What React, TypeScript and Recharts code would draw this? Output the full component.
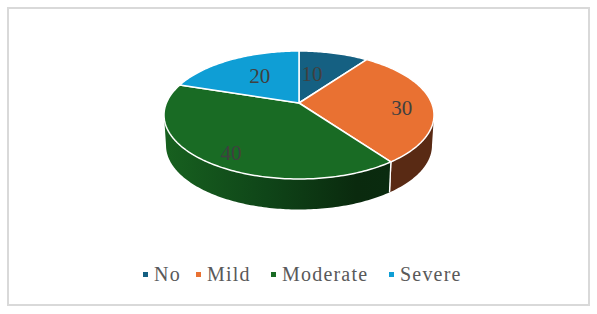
import React from "react";
import { PieChart, Pie, Legend } from "recharts";

const categories = ["No", "Mild", "Moderate", "Severe"];
const seriesValues = [10, 30, 40, 20];
const colours = ["#156082", "#E97132", "#196B24", "#0F9ED5"];

const chartData = categories.map((name, i) => ({ name, value: seriesValues[i], fill: colours[i] }));

// Perspective view of the flat pie disc
const TILT = 0.1875;
const SCALE_X = 132.6;
const SCALE_Y = 61.75;
const DEPTH = 30.5;
const FLOOR_SHRINK = 0.985;
const SILHOUETTE = (Math.acos(-TILT) * 180) / Math.PI;

const project = (cx: number, cy: number, deg: number, f = 1) => {
  const r = (deg * Math.PI) / 180;
  const w = 1 + TILT * f * Math.cos(r);
  return { x: cx + (SCALE_X * f * Math.sin(r)) / w, y: cy - (SCALE_Y * f * Math.cos(r)) / w };
};
const floor = (cx: number, p: { x: number; y: number }) => ({
  x: cx + (p.x - cx) * FLOOR_SHRINK,
  y: p.y + DEPTH,
});
const pts = (a: { x: number; y: number }[]) =>
  a.map((p, i) => `${i ? "L" : "M"}${p.x.toFixed(2)},${p.y.toFixed(2)}`).join(" ");
const arc = (cx: number, cy: number, a: number, b: number) => {
  const n = Math.max(2, Math.ceil(Math.abs(b - a)));
  return Array.from({ length: n + 1 }, (_, i) => project(cx, cy, a + ((b - a) * i) / n));
};

const PieSlice3D = (props: any) => {
  const { cx, cy, startAngle, endAngle, fill } = props;
  const t0 = 90 - startAngle;
  const t1 = 90 - endAngle;
  const a = Math.max(t0, SILHOUETTE);
  const b = Math.min(t1, 360 - SILHOUETTE);
  const hasWall = b > a;
  const isGreen = fill === colours[2];
  const gid = "wall-grad-green";
  let wall = null;
  if (hasWall) {
    const up = arc(cx, cy, a, b);
    const low = up.map((p) => floor(cx, p)).reverse();
    const edges = [t0, t1].filter((t) => t > SILHOUETTE && t < 360 - SILHOUETTE);
    wall = (
      <g>
        {isGreen && (
          <defs>
            <linearGradient id={gid} gradientUnits="userSpaceOnUse" x1={166} x2={390} y1={0} y2={0}>
              <stop offset="0" stopColor="#17601f" />
              <stop offset="0.45" stopColor="#0f4518" />
              <stop offset="0.85" stopColor="#0a2a0e" />
              <stop offset="1" stopColor="#0a2b0f" />
            </linearGradient>
          </defs>
        )}
        <path d={pts([...up, ...low]) + " Z"} fill={isGreen ? `url(#${gid})` : "#592a14"} />
        {edges.map((t) => {
          const p = project(cx, cy, t);
          const q = floor(cx, p);
          return <line key={t} x1={p.x} y1={p.y} x2={q.x} y2={q.y} stroke="#fff" strokeWidth={1.3} />;
        })}
      </g>
    );
  }
  const top = pts([{ x: cx, y: cy }, ...arc(cx, cy, t0, t1)]) + " Z";
  return (
    <g>
      {wall}
      <path d={top} fill={fill} stroke="#fff" strokeWidth={1.5} strokeLinejoin="round" />
    </g>
  );
};

const LABEL_NUDGE = [
  [-12.5, 7.5],
  [10, 5],
  [-7, 11],
  [10, 5],
];

const SliceLabel = (props: any) => {
  const { cx, cy, midAngle, index, value } = props;
  const p = project(cx, cy, 90 - midAngle, 0.7);
  const [dx, dy] = LABEL_NUDGE[index];
  return (
    <text
      x={p.x + dx}
      y={p.y + dy + 7}
      textAnchor="middle"
      fontFamily="'Liberation Serif', serif"
      fontSize={21}
      fill="#404040"
    >
      {value}
    </text>
  );
};

const LEGEND_ITEM_WIDTHS = [53, 75, 118, 80];

const LegendRow = (props: any) => (
  <div style={{ display: "flex", alignItems: "center", fontFamily: "'Liberation Serif', serif", fontSize: 20, letterSpacing: 1.2, color: "#595959", lineHeight: "20px", whiteSpace: "nowrap" }}>
    {(props.payload || []).map((e: any, i: number) => (
      <div key={e.value} style={{ display: "flex", alignItems: "center", gap: 6, width: LEGEND_ITEM_WIDTHS[i] }}>
        <span style={{ width: 5, height: 5, background: e.color, display: "inline-block", flex: "none" }} />
        <span>{e.value}</span>
      </div>
    ))}
  </div>
);

export default function App() {
  return (
    <div style={{ position: "absolute", left: 0, top: 0, width: 597, height: 314, background: "#fff" }}>
      <div style={{ position: "absolute", left: 7, top: 7, width: 579, height: 295, border: "2px solid #d9d9d9" }} />
      <PieChart
        width={597}
        height={314}
        margin={{ top: 0, right: 0, bottom: 0, left: 0 }}
        style={{ position: "absolute", left: 0, top: 0 }}
      >
        <Pie
          data={chartData}
          dataKey="value"
          nameKey="name"
          cx={299}
          cy={103}
          outerRadius={100}
          startAngle={90}
          endAngle={-270}
          stroke="none"
          shape={PieSlice3D}
          label={SliceLabel}
          labelLine={false}
          isAnimationActive={false}
        />
        <Legend
          content={LegendRow}
          itemSorter={null}
          wrapperStyle={{ position: "absolute", left: 143, top: 264, width: "auto" }}
        />
      </PieChart>
    </div>
  );
}
